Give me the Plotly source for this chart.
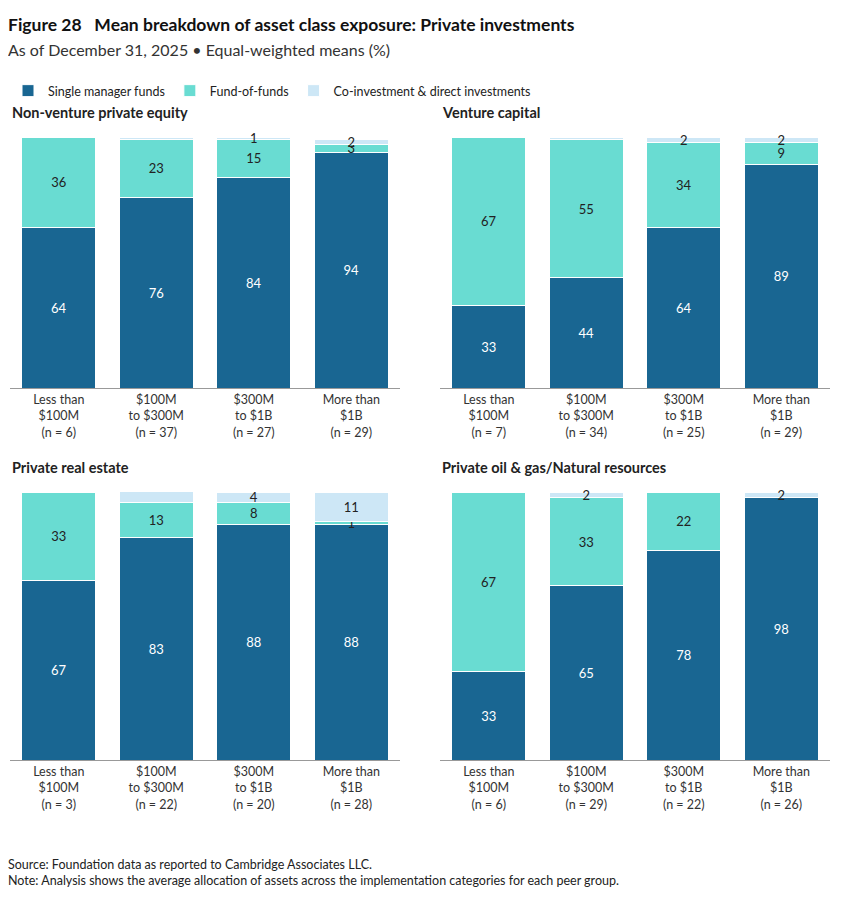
import plotly.graph_objects as go
from plotly.subplots import make_subplots

groups = ['Less than<br>$100M<br>(n = {})', '$100M<br>to $300M<br>(n = {})',
          '$300M<br>to $1B<br>(n = {})', 'More than<br>$1B<br>(n = {})']
series = ['Single manager funds', 'Fund-of-funds', 'Co-investment & direct investments']
colors = ['#196692', '#69dcd2', '#cde7f6']
text_colors = ['white', '#222222', '#222222']

panels = ['Non-venture private equity', 'Venture capital',
          'Private real estate', 'Private oil & gas/Natural resources']
counts = [[6, 37, 27, 29], [7, 34, 25, 29], [3, 22, 20, 28], [6, 29, 22, 26]]

single = [[64, 76, 84, 94], [33, 44, 64, 89], [67, 83, 88, 88], [33, 65, 78, 98]]
fof = [[36, 23, 15, 3], [67, 55, 34, 9], [33, 13, 8, 1], [67, 33, 22, 0]]
coinv = [[0, 1, 1, 2], [0, 1, 2, 2], [0, 5, 4, 11], [0, 2, 0, 2]]

fig = make_subplots(rows=2, cols=2)
W, H = 838, 902
OFF = 8  # page margin of the browser


def px(x, total):
    return (x - OFF) / total


xd = [[px(10, W), px(400, W)], [px(440, W), px(830, W)]]
yd = [[1 - px(760, H), 1 - px(492, H)], [1 - px(388, H), 1 - px(137, H)]]

for i in range(4):
    r, c = i // 2 + 1, i % 2 + 1
    cats = [g.format(n) for g, n in zip(groups, counts[i])]
    for s, vals in enumerate([single[i], fof[i], coinv[i]]):
        labels = []
        for j, v in enumerate(vals):
            hide = v < 1 or (s == 2 and v == 1 and j == 1)
            labels.append('' if hide else str(v))
        fig.add_trace(go.Bar(
            x=cats, y=vals, name=series[s], marker_color=colors[s],
            marker_line=dict(color='white', width=1),
            text=labels, textposition='inside', insidetextanchor='middle',
            textangle=0, cliponaxis=False,
            textfont=dict(color=text_colors[s], size=13),
            showlegend=(i == 0), hoverinfo='skip'), row=r, col=c)
    n = '' if i == 0 else str(i + 1)
    fig.layout['xaxis' + n].update(domain=xd[c - 1], showline=True, linecolor='#999999',
                                   tickfont=dict(size=12.5, color='#333333'), ticks='')
    fig.layout['yaxis' + n].update(domain=yd[2 - r], range=[0, 100], visible=False)
    fig.add_annotation(text='<b>' + panels[i] + '</b>', x=xd[c - 1][0], xanchor='left',
                       y=yd[2 - r][1] + 14 / H, yanchor='bottom', xref='paper', yref='paper',
                       showarrow=False, font=dict(size=14.5, color='#222222'))

fig.add_annotation(text='<b>Figure 28   Mean breakdown of asset class exposure: Private investments</b>',
                   x=px(6, W), y=1 - px(12, H), xref='paper', yref='paper', xanchor='left', yanchor='top',
                   showarrow=False, font=dict(size=17.5, color='#111111'))
fig.add_annotation(text='As of December 31, 2025 • Equal-weighted means (%)',
                   x=px(6, W), y=1 - px(38, H), xref='paper', yref='paper', xanchor='left', yanchor='top',
                   showarrow=False, font=dict(size=16, color='#333333'))
fig.add_annotation(text='Source: Foundation data as reported to Cambridge Associates LLC.<br>'
                        'Note: Analysis shows the average allocation of assets across the implementation categories for each peer group.',
                   x=px(6, W), y=1 - px(855, H), xref='paper', yref='paper', xanchor='left', yanchor='top',
                   align='left', showarrow=False, font=dict(size=12.5, color='#222222'))

fig.update_layout(
    width=W, height=H, barmode='stack', bargap=0.24,
    margin=dict(l=0, r=0, t=0, b=0),
    plot_bgcolor='white', paper_bgcolor='white',
    font=dict(family='Lato', color='#222222'),
    uniformtext=dict(minsize=12, mode='show'),
    legend=dict(orientation='h', x=px(8, W), y=1 - px(76, H), xanchor='left', yanchor='top',
                font=dict(size=12.5), itemwidth=30, traceorder='normal'),
)

fig.write_html("out.html")
